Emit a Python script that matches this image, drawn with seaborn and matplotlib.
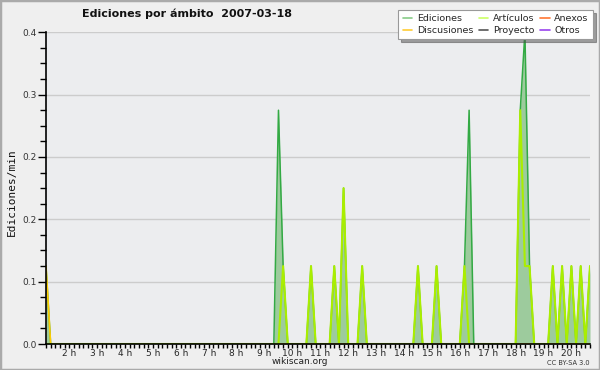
import numpy as np
import pandas as pd
import matplotlib
matplotlib.use("Agg")
import matplotlib.pyplot as plt
import seaborn as sns
from matplotlib.ticker import FixedLocator, MultipleLocator, FuncFormatter
from matplotlib.lines import Line2D
from matplotlib.patches import Rectangle

# ---- data (10-minute bins, edits per minute) ----
start_time = "01:10"
end_time = "20:40"
bin_minutes = 10
times = ["01:10", "09:30", "09:40", "10:40", "11:30", "11:50", "12:30",
         "14:30", "15:10", "16:10", "16:20", "18:10", "18:20", "18:30",
         "19:20", "19:40", "20:00", "20:20", "20:40"]
ediciones = [0.1, 0.3, 0.1, 0.1, 0.1, 0.2, 0.1,
             0.1, 0.1, 0.1, 0.3, 0.3, 0.4, 0.1,
             0.1, 0.1, 0.1, 0.1, 0.1]
articulos = [0.0, 0.0, 0.1, 0.1, 0.1, 0.2, 0.1,
             0.1, 0.1, 0.1, 0.0, 0.3, 0.1, 0.1,
             0.1, 0.1, 0.1, 0.1, 0.1]
discusiones = [0.1, 0.0, 0.0, 0.0, 0.0, 0.0, 0.0,
               0.0, 0.0, 0.0, 0.0, 0.0, 0.0, 0.0,
               0.0, 0.0, 0.0, 0.0, 0.0]
hour_ticks = list(range(2, 21))
y_ticks = [0.0, 0.08, 0.16, 0.24, 0.32, 0.40]
legend_labels = ["Ediciones", "Discusiones", "Artículos", "Proyecto", "Anexos", "Otros"]
legend_colors = ["#88cc88", "#ffcc33", "#ccff66", "#555555", "#ff7733", "#9944ee"]
title = "Ediciones por ámbito  2007-03-18"


def to_hours(s):
    h, m = s.split(":")
    return int(h) + int(m) / 60.0


# build full series on the 10-minute grid (bins without edits are 0)
t0, t1 = to_hours(start_time), to_hours(end_time)
n = int(round((t1 - t0) * 60 / bin_minutes)) + 1
grid = pd.DataFrame({"hora": t0 + np.arange(n) * bin_minutes / 60.0})
grid["key"] = (grid["hora"] * 60).round().astype(int)
sparse = pd.DataFrame({"key": [int(round(to_hours(t) * 60)) for t in times],
                       "Ediciones": ediciones, "Artículos": articulos,
                       "Discusiones": discusiones})
df = grid.merge(sparse, on="key", how="left").fillna(0.0)

sns.set_theme(style="white")
plt.rcParams["font.family"] = ["DejaVu Sans"]

fig = plt.figure(figsize=(6, 3.7), dpi=100, facecolor="#efefef")
ax = fig.add_axes([46 / 600, 1 - 344 / 370, 544 / 600, (344 - 32.3) / 370])
ax.set_facecolor("#ecedef")

for y in y_ticks[1:]:
    ax.axhline(y, color="#cccccc", lw=1, zorder=0)

ax.fill_between(df["hora"], df["Ediciones"], 0, color="#9dcb9d", lw=0, zorder=1)
sns.lineplot(data=df, x="hora", y="Ediciones", ax=ax, color="#33aa44", lw=1.1, zorder=2)
sns.lineplot(data=df, x="hora", y="Discusiones", ax=ax, color="#ffcc00", lw=1.2, zorder=3)
sns.lineplot(data=df, x="hora", y="Artículos", ax=ax, color="#aaee00", lw=1.5, zorder=4)

ax.set_xlim(t0, t1)
ax.set_ylim(0, 0.4)
ax.set_xlabel("")
ax.set_ylabel("")

ax.xaxis.set_major_locator(FixedLocator(hour_ticks))
ax.xaxis.set_major_formatter(FuncFormatter(lambda v, p: f"{int(round(v))} h"))
ax.xaxis.set_minor_locator(MultipleLocator(1 / 6))
ax.yaxis.set_major_locator(FixedLocator(y_ticks))
ax.yaxis.set_major_formatter(FuncFormatter(lambda v, p: f"{v:.1f}"))
ax.yaxis.set_minor_locator(MultipleLocator(0.02))

ax.tick_params(axis="x", which="both", direction="out", length=3, width=1,
               color="black", labelsize=6.5, pad=0.5, bottom=True)
ax.tick_params(axis="y", which="major", direction="out", length=6, width=1,
               color="black", labelsize=6.5, pad=1, left=True)
ax.tick_params(axis="y", which="minor", direction="out", length=4, width=1,
               color="black", left=True)
for lab in ax.get_yticklabels():
    lab.set_color("#333333")

for side in ["top", "right"]:
    ax.spines[side].set_visible(False)
for side in ["left", "bottom"]:
    ax.spines[side].set_color("black")
    ax.spines[side].set_linewidth(1.2)
    ax.spines[side].set_zorder(5)

handles = [Line2D([0], [0], color=c, lw=1.2) for c in legend_colors]
leg = fig.legend(handles, legend_labels, ncol=3, loc="upper right",
                 bbox_to_anchor=(593 / 600, 1 - 10 / 370), fontsize=6.8,
                 frameon=True, fancybox=False, shadow=True, edgecolor="#999999",
                 facecolor="white", framealpha=1, handlelength=1.0,
                 handletextpad=0.5, columnspacing=0.6, labelspacing=0.3,
                 borderpad=0.45, borderaxespad=0)
leg.get_frame().set_linewidth(0.8)

fig.text(187 / 600, 1 - 14 / 370, title, ha="center", va="center",
         fontsize=8, fontweight="bold", color="#111111")
fig.text(12 / 600, 1 - 192 / 370, "Ediciones/min", rotation=90, ha="center",
         va="center", fontsize=8, family="DejaVu Sans Mono", color="#111111")
fig.text(300 / 600, 1 - 361.5 / 370, "wikiscan.org", ha="center", va="center",
         fontsize=6.5, color="#222222")
fig.text(590 / 600, 1 - 363 / 370, "CC BY-SA 3.0", ha="right", va="center",
         fontsize=4.8, color="#333333")

fig.patches.append(Rectangle((0, 0), 1, 1, transform=fig.transFigure, fill=False,
                             edgecolor="#aaaaaa", lw=2.5))

fig.savefig("out.png", dpi=100, facecolor=fig.get_facecolor())
